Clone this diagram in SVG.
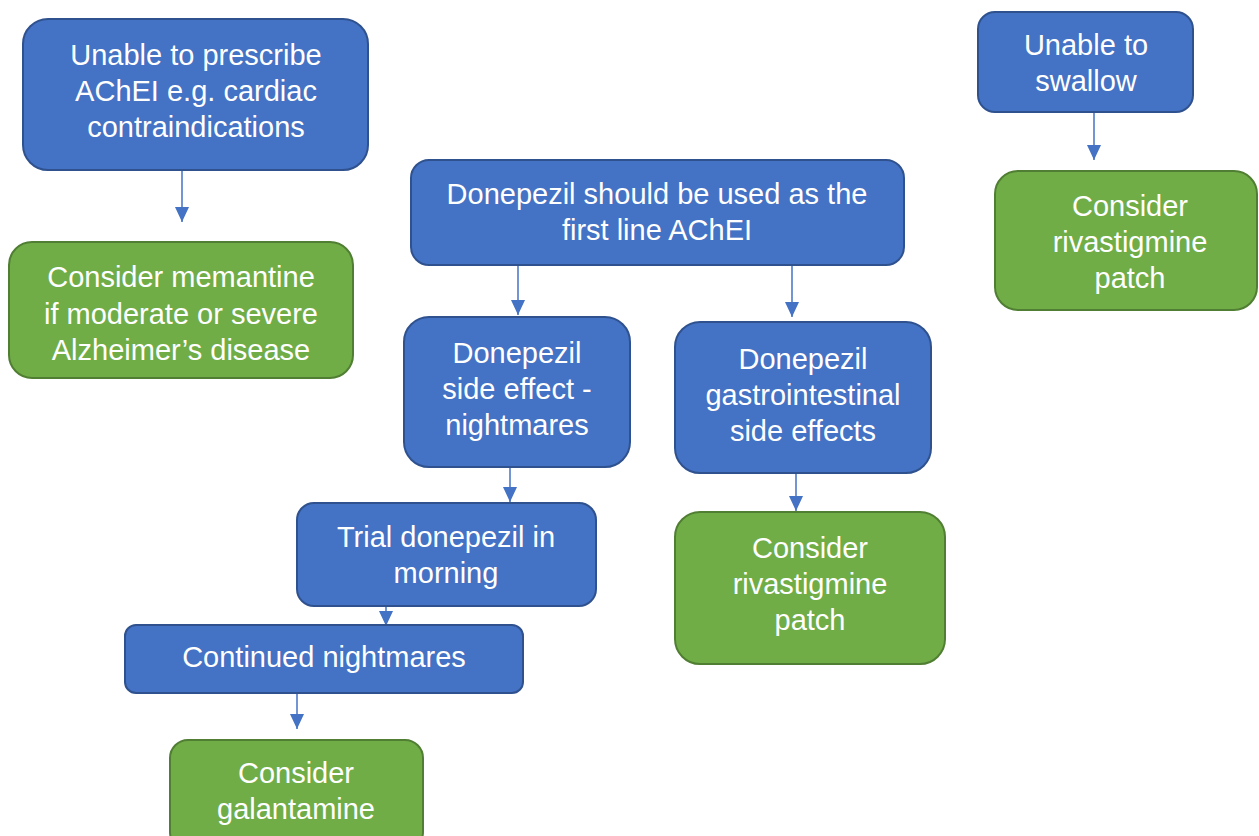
<svg xmlns="http://www.w3.org/2000/svg" width="1259" height="836" viewBox="0 0 1259 836">
<style>
.blue{fill:#4472C4;stroke:#2F528F;stroke-width:2}
.green{fill:#70AD47;stroke:#507E32;stroke-width:2}
.t{font-family:"Liberation Sans",Arial,sans-serif;font-size:29px;fill:#FFFFFF;text-anchor:middle}
.c{stroke:#4472C4;stroke-width:1.5;fill:none;marker-end:url(#ah)}
</style>
<defs>
<marker id="ah" viewBox="0 0 15 14" refX="15" refY="7" markerWidth="15" markerHeight="14" markerUnits="userSpaceOnUse" orient="auto">
<path d="M0,0 L15,7 L0,14 z" fill="#4472C4"/>
</marker>
</defs>
<rect width="1259" height="836" fill="#FFFFFF"/>
<g id="connectors">
<line class="c" x1="182" y1="171" x2="182" y2="222"/>
<line class="c" x1="518" y1="266" x2="518" y2="315"/>
<line class="c" x1="792" y1="266" x2="792" y2="317"/>
<line class="c" x1="510" y1="468" x2="510" y2="502"/>
<line class="c" x1="796" y1="474" x2="796" y2="511"/>
<line class="c" x1="386" y1="607" x2="386" y2="626"/>
<line class="c" x1="297" y1="694" x2="297" y2="729"/>
<line class="c" x1="1094" y1="113" x2="1094" y2="160"/>
</g>
<g id="n1">
<rect class="blue" x="23" y="19" width="345" height="151" rx="25"/>
<text class="t" x="196" y="65">Unable to prescribe</text>
<text class="t" x="196" y="101">AChEI e.g. cardiac</text>
<text class="t" x="196" y="137">contraindications</text>
</g>
<g id="n2">
<rect class="green" x="9" y="242" width="344" height="136" rx="23"/>
<text class="t" x="181" y="287">Consider memantine</text>
<text class="t" x="181" y="324">if moderate or severe</text>
<text class="t" x="181" y="360">Alzheimer’s disease</text>
</g>
<g id="n3">
<rect class="blue" x="411" y="160" width="493" height="105" rx="18"/>
<text class="t" x="657" y="204">Donepezil should be used as the</text>
<text class="t" x="657" y="240">first line AChEI</text>
</g>
<g id="n4">
<rect class="blue" x="404" y="317" width="226" height="150" rx="25"/>
<text class="t" x="517" y="363">Donepezil</text>
<text class="t" x="517" y="399">side effect -</text>
<text class="t" x="517" y="435">nightmares</text>
</g>
<g id="n5">
<rect class="blue" x="675" y="322" width="256" height="151" rx="25"/>
<text class="t" x="803" y="369">Donepezil</text>
<text class="t" x="803" y="405">gastrointestinal</text>
<text class="t" x="803" y="441">side effects</text>
</g>
<g id="n6">
<rect class="blue" x="297" y="503" width="299" height="103" rx="17"/>
<text class="t" x="446" y="547">Trial donepezil in</text>
<text class="t" x="446" y="583">morning</text>
</g>
<g id="n7">
<rect class="blue" x="125" y="625" width="398" height="68" rx="11"/>
<text class="t" x="324" y="667">Continued nightmares</text>
</g>
<g id="n8">
<rect class="green" x="170" y="740" width="253" height="110" rx="18"/>
<text class="t" x="296" y="783">Consider</text>
<text class="t" x="296" y="819">galantamine</text>
</g>
<g id="n9">
<rect class="green" x="675" y="512" width="270" height="152" rx="25"/>
<text class="t" x="810" y="558">Consider</text>
<text class="t" x="810" y="594">rivastigmine</text>
<text class="t" x="810" y="630">patch</text>
</g>
<g id="n10">
<rect class="blue" x="978" y="12" width="215" height="100" rx="17"/>
<text class="t" x="1086" y="55">Unable to</text>
<text class="t" x="1086" y="91">swallow</text>
</g>
<g id="n11">
<rect class="green" x="995" y="171" width="262" height="139" rx="23"/>
<text class="t" x="1130" y="216">Consider</text>
<text class="t" x="1130" y="252">rivastigmine</text>
<text class="t" x="1130" y="288">patch</text>
</g>
</svg>
